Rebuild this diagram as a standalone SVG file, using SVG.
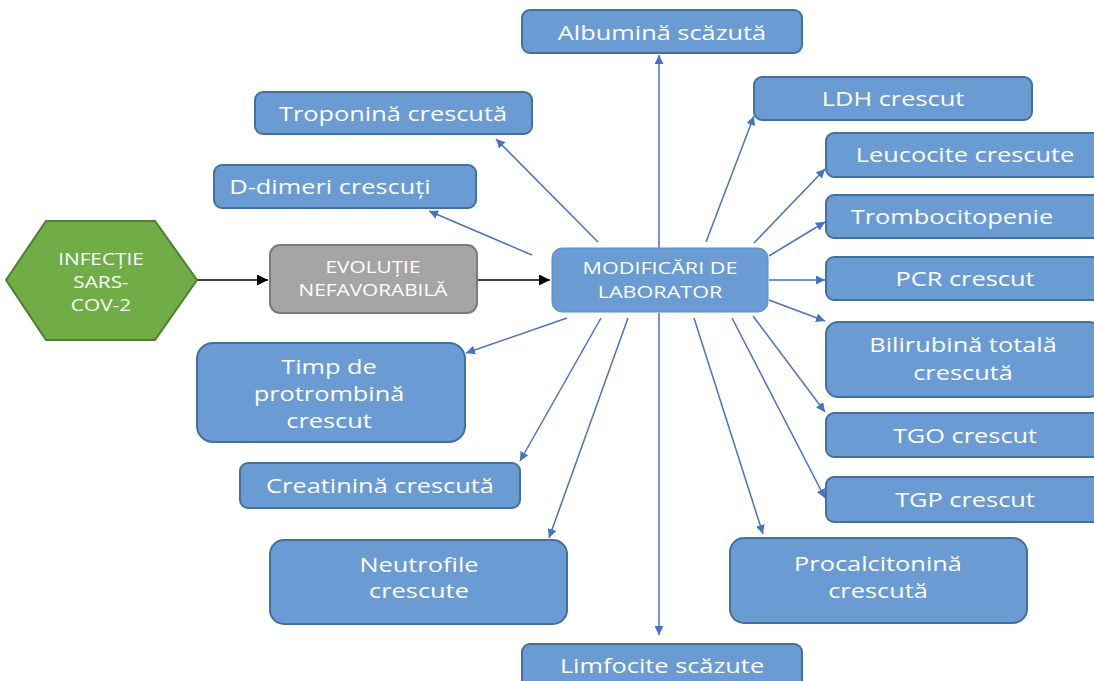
<svg xmlns="http://www.w3.org/2000/svg" width="1094" height="681" viewBox="0 0 1094 681">
<style>
.box{fill:#6a9bd3;stroke:#41719c;stroke-width:2}
.t{font-family:"Open Sans","Noto Sans",sans-serif;fill:#ffffff;text-anchor:middle}
.l{font-size:19.5px}
.s{font-size:16px}
.c{stroke:#4a72c0;stroke-width:1.5;fill:none}
.k{stroke:#000;stroke-width:1.5;fill:none}
</style>
<defs>
<marker id="ab" viewBox="0 0 10 10" refX="10" refY="5" markerWidth="9" markerHeight="9" markerUnits="userSpaceOnUse" orient="auto"><path d="M0,0 L10,5 L0,10 z" fill="#4472c4"/></marker>
<marker id="ak" viewBox="0 0 10 10" refX="10" refY="5" markerWidth="13" markerHeight="11" markerUnits="userSpaceOnUse" orient="auto"><path d="M0,0 L10,5 L0,10 z" fill="#000"/></marker>
</defs>
<rect width="1094" height="681" fill="#ffffff"/>
<g id="connectors">
<line class="k" x1="197" y1="280" x2="268" y2="280" marker-end="url(#ak)"/>
<line class="k" x1="477" y1="280" x2="550" y2="280" marker-end="url(#ak)"/>
<line class="c" x1="659" y1="248" x2="659" y2="55" marker-end="url(#ab)"/>
<line class="c" x1="598" y1="242" x2="496" y2="139" marker-end="url(#ab)"/>
<line class="c" x1="532" y1="255" x2="429" y2="211" marker-end="url(#ab)"/>
<line class="c" x1="706" y1="242" x2="754" y2="116" marker-end="url(#ab)"/>
<line class="c" x1="754" y1="243" x2="825" y2="169" marker-end="url(#ab)"/>
<line class="c" x1="769" y1="256" x2="825" y2="222" marker-end="url(#ab)"/>
<line class="c" x1="769" y1="280" x2="825" y2="280" marker-end="url(#ab)"/>
<line class="c" x1="769" y1="300" x2="825" y2="321" marker-end="url(#ab)"/>
<line class="c" x1="753" y1="316" x2="825" y2="412" marker-end="url(#ab)"/>
<line class="c" x1="732" y1="318" x2="825" y2="498" marker-end="url(#ab)"/>
<line class="c" x1="694" y1="318" x2="763" y2="534" marker-end="url(#ab)"/>
<line class="c" x1="659" y1="313" x2="659" y2="635" marker-end="url(#ab)"/>
<line class="c" x1="628" y1="318" x2="549" y2="538" marker-end="url(#ab)"/>
<line class="c" x1="601" y1="318" x2="520" y2="461" marker-end="url(#ab)"/>
<line class="c" x1="567" y1="318" x2="466" y2="353" marker-end="url(#ab)"/>
</g>
<g id="infectie">
<polygon points="6,280 46,221 155,221 197,280 155,340 46,340" fill="#70ad47" stroke="#507e32" stroke-width="2"/>
<text class="t s" transform="translate(101,265) scale(1.3,1)">INFECȚIE</text>
<text class="t s" transform="translate(101,288) scale(1.3,1)">SARS-</text>
<text class="t s" transform="translate(101,311) scale(1.3,1)">COV-2</text>
</g>
<g id="evolutie">
<rect x="270" y="245" width="207" height="68" rx="10" fill="#a5a5a5" stroke="#7b7b7b" stroke-width="2"/>
<text class="t s" transform="translate(373,273) scale(1.3,1)">EVOLUȚIE</text>
<text class="t s" transform="translate(373,296) scale(1.3,1)">NEFAVORABILĂ</text>
</g>
<g id="modificari">
<rect x="552" y="248" width="216" height="64" rx="10" fill="#6a9bd3" stroke="#5a8cc8" stroke-width="1"/>
<text class="t s" transform="translate(660,274) scale(1.35,1)">MODIFICĂRI DE</text>
<text class="t s" transform="translate(660,298) scale(1.35,1)">LABORATOR</text>
</g>
<g id="albumina">
<rect class="box" x="522" y="10" width="280" height="43" rx="8"/>
<text class="t l" transform="translate(662,40) scale(1.3,1)">Albumină scăzută</text>
</g>
<g id="troponina">
<rect class="box" x="255" y="92" width="277" height="42" rx="8"/>
<text class="t l" transform="translate(393,121) scale(1.3,1)">Troponină crescută</text>
</g>
<g id="ddimeri">
<rect class="box" x="214" y="165" width="262" height="43" rx="8"/>
<text class="t l" transform="translate(330,194) scale(1.3,1)">D-dimeri crescuți</text>
</g>
<g id="ldh">
<rect class="box" x="754" y="77" width="278" height="43" rx="8"/>
<text class="t l" transform="translate(893,106) scale(1.3,1)">LDH crescut</text>
</g>
<g id="leucocite">
<rect class="box" x="826" y="133" width="275" height="44" rx="8"/>
<text class="t l" transform="translate(965,162) scale(1.3,1)">Leucocite crescute</text>
</g>
<g id="trombocitopenie">
<rect class="box" x="826" y="195" width="275" height="43" rx="8"/>
<text class="t l" transform="translate(952,224) scale(1.3,1)">Trombocitopenie</text>
</g>
<g id="pcr">
<rect class="box" x="826" y="257" width="275" height="43" rx="8"/>
<text class="t l" transform="translate(965,286) scale(1.3,1)">PCR crescut</text>
</g>
<g id="bilirubina">
<rect class="box" x="826" y="322" width="275" height="75" rx="12"/>
<text class="t l" transform="translate(963,352) scale(1.3,1)">Bilirubină totală</text>
<text class="t l" transform="translate(963,380) scale(1.3,1)">crescută</text>
</g>
<g id="tgo">
<rect class="box" x="826" y="413" width="275" height="44" rx="8"/>
<text class="t l" transform="translate(965,443) scale(1.3,1)">TGO crescut</text>
</g>
<g id="tgp">
<rect class="box" x="826" y="477" width="275" height="45" rx="8"/>
<text class="t l" transform="translate(965,507) scale(1.3,1)">TGP crescut</text>
</g>
<g id="procalcitonina">
<rect class="box" x="730" y="538" width="297" height="85" rx="14"/>
<text class="t l" transform="translate(878,571) scale(1.3,1)">Procalcitonină</text>
<text class="t l" transform="translate(878,598) scale(1.3,1)">crescută</text>
</g>
<g id="timp">
<rect class="box" x="197" y="343" width="268" height="99" rx="16"/>
<text class="t l" transform="translate(329,374) scale(1.3,1)">Timp de</text>
<text class="t l" transform="translate(329,401) scale(1.3,1)">protrombină</text>
<text class="t l" transform="translate(329,428) scale(1.3,1)">crescut</text>
</g>
<g id="creatinina">
<rect class="box" x="240" y="463" width="280" height="45" rx="8"/>
<text class="t l" transform="translate(380,493) scale(1.3,1)">Creatinină crescută</text>
</g>
<g id="neutrofile">
<rect class="box" x="270" y="540" width="297" height="84" rx="14"/>
<text class="t l" transform="translate(419,572) scale(1.3,1)">Neutrofile</text>
<text class="t l" transform="translate(419,598) scale(1.3,1)">crescute</text>
</g>
<g id="limfocite">
<rect class="box" x="522" y="644" width="280" height="50" rx="8"/>
<text class="t l" transform="translate(662,673) scale(1.3,1)">Limfocite scăzute</text>
</g>
</svg>
